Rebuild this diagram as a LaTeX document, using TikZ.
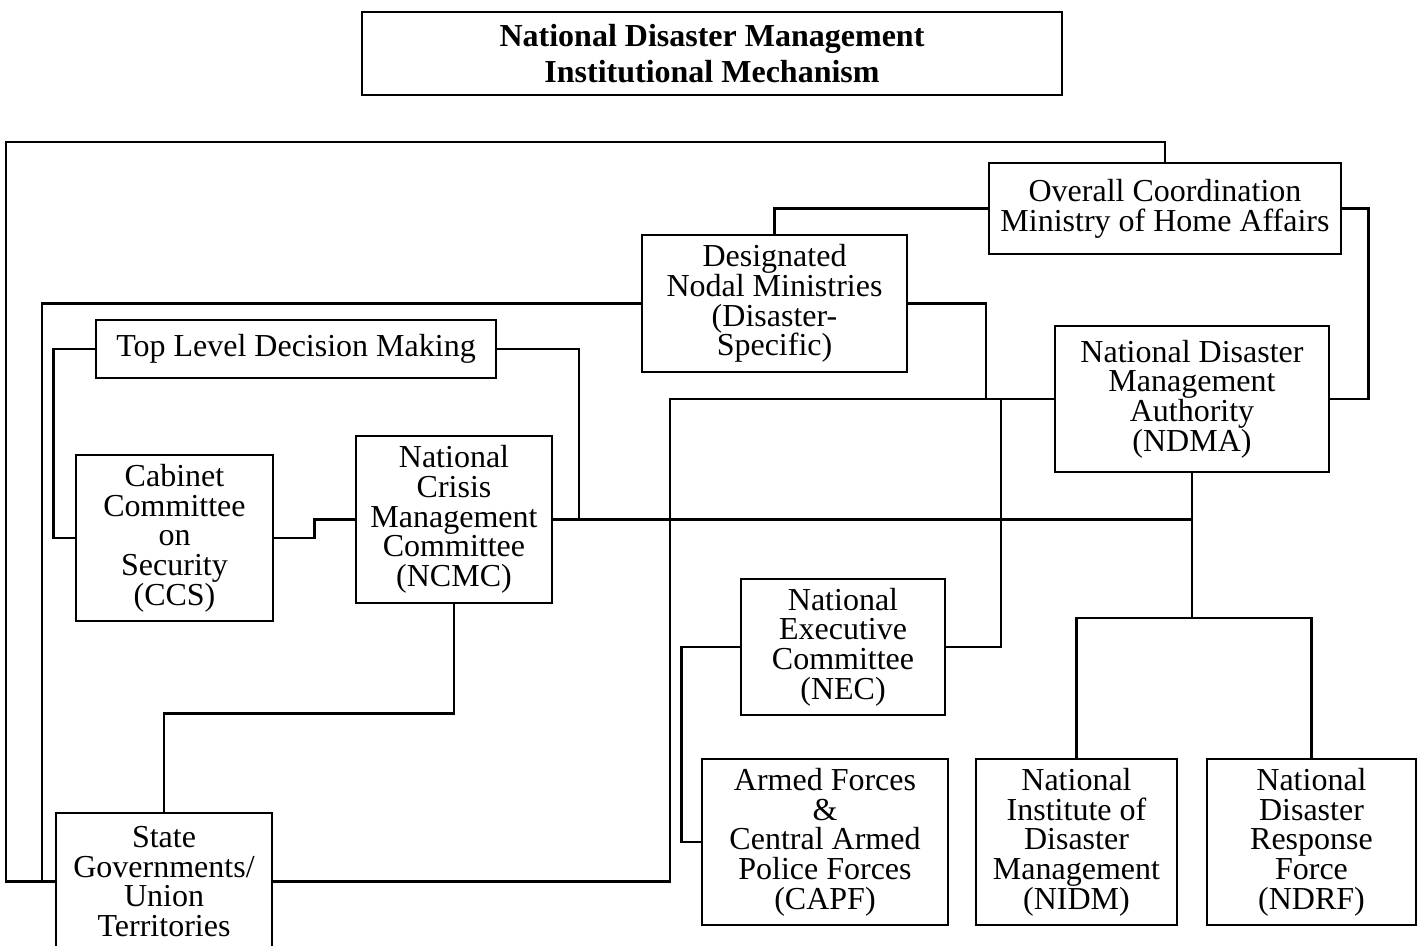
\documentclass[tikz,border=0pt]{standalone}
\usepackage{fontspec}
\setmainfont{Liberation Serif}

\tikzset{
  box/.style={draw, line width=2.6pt, inner sep=0pt, align=center,
    font=\fontsize{32pt}{29.7pt}\selectfont},
  link/.style={line width=2.6pt}
}

\begin{document}
\begin{tikzpicture}[x=1pt, y=-1pt]
  \path[fill=white,use as bounding box] (0,0) rectangle (1426,945);
  % boxes
  \node [box, minimum width=700pt, minimum height=83pt,
    font=\fontsize{32pt}{36pt}\selectfont\bfseries] (title) at (712,53.5)
    {National Disaster Management\\Institutional Mechanism};
  \node [box, minimum width=352pt, minimum height=91pt] (mha) at (1165,208.5)
    {Overall Coordination\\Ministry of Home Affairs};
  \node [box, minimum width=265pt, minimum height=137pt] (nodal) at (774.5,303.5)
    {Designated\\Nodal Ministries\\(Disaster-\\Specific)};
  \node [box, minimum width=400pt, minimum height=58pt] (tldm) at (296,349)
    {Top Level Decision Making};
  \node [box, minimum width=274pt, minimum height=146pt] (ndma) at (1192,399)
    {National Disaster\\Management\\Authority\\(NDMA)};
  \node [box, minimum width=197pt, minimum height=166pt] (ccs) at (174.5,538)
    {Cabinet\\Committee\\on\\Security\\(CCS)};
  \node [box, minimum width=196pt, minimum height=167pt] (ncmc) at (454,519.5)
    {National\\Crisis\\Management\\Committee\\(NCMC)};
  \node [box, minimum width=204pt, minimum height=136pt] (nec) at (843,647)
    {National\\Executive\\Committee\\(NEC)};
  \node [box, minimum width=246pt, minimum height=166pt] (capf) at (825,842)
    {Armed Forces\\\&\\Central Armed\\Police Forces\\(CAPF)};
  \node [box, minimum width=201pt, minimum height=166pt] (nidm) at (1076.5,842)
    {National\\Institute of\\Disaster\\Management\\(NIDM)};
  \node [box, minimum width=209pt, minimum height=166pt] (ndrf) at (1311.5,842)
    {National\\Disaster\\Response\\Force\\(NDRF)};
  \node [box, minimum width=216pt, minimum height=137pt] (state) at (164,881.5)
    {State\\Governments/\\Union\\Territories};
  % connectors
  \draw [link] (mha.north) |- (6,142) |- (state.west);
  \draw [link] (nodal.west) -| (42,881.5) -- (state.west);
  \draw [link] (mha.west) -| (nodal.north);
  \draw [link] (mha.east) -- ++(26,0) |- (ndma.east);
  \draw [link] (tldm.west) -- ++(-41,0) |- (ccs.west);
  \draw [link] (tldm.east) -| (579,519.5);
  \draw [link] (ccs.east) -- ++(40,0) |- (ncmc.west);
  \draw [link] (ncmc.east) -| (ndma.south);
  \coordinate (split) at (1192,618);
  \draw [link] (ndma.south) -- (split);
  \draw [link] (nidm.north) |- (split) -| (ndrf.north);
  \draw [link] (nodal.east) -| (986,399);
  \draw [link] (ndma.west) -- (670,399) |- (state.east);
  \draw [link] (1001,399) |- (nec.east);
  \draw [link] (nec.west) -- ++(-58,0) |- (capf.west);
  \draw [link] (ncmc.south) -- ++(0,109) -| (state.north);
\end{tikzpicture}
\end{document}
